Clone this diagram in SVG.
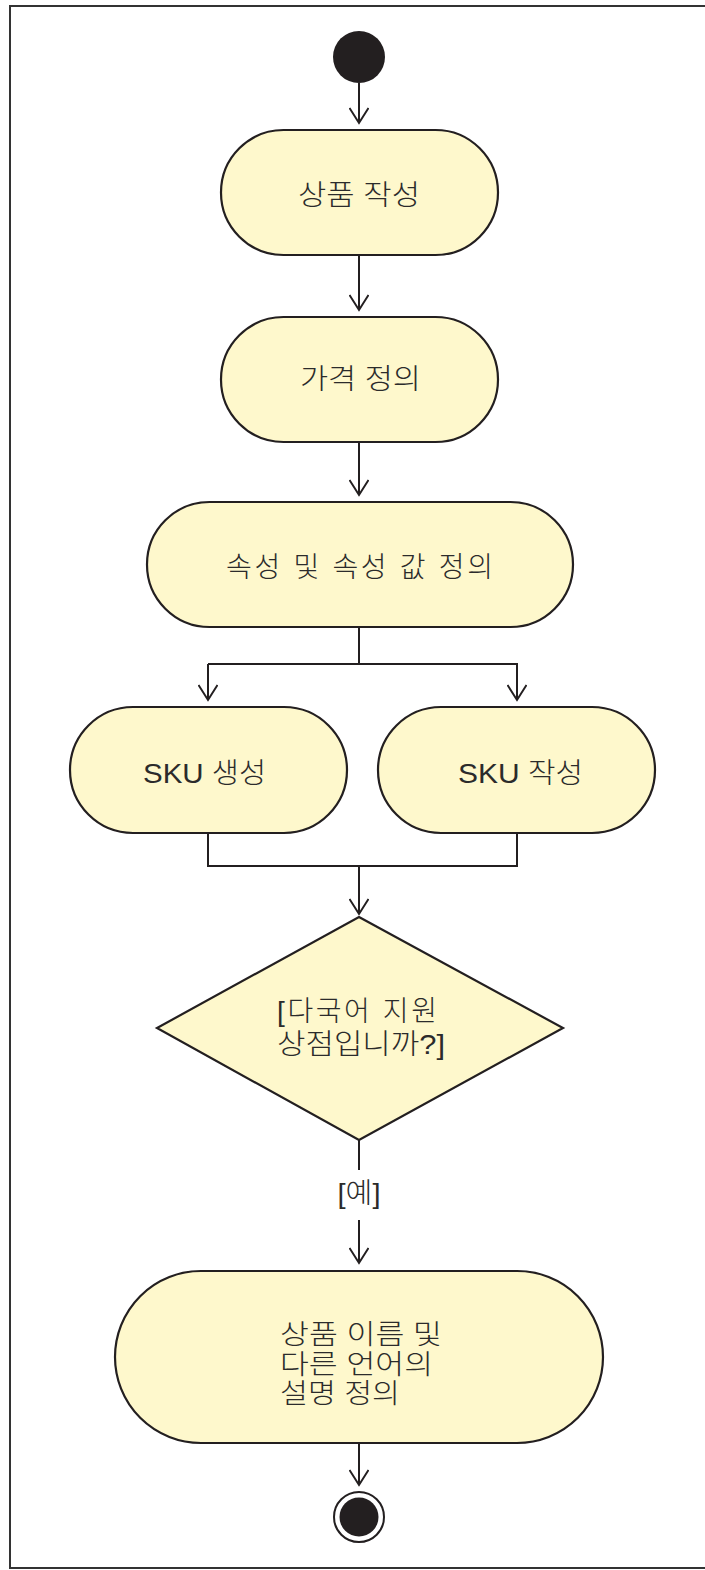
<svg xmlns="http://www.w3.org/2000/svg" width="705" height="1570" viewBox="0 0 705 1570">
<style>
.node{fill:#fef8cc;stroke:#231f20;stroke-width:2.2}
.edge{fill:none;stroke:#231f20;stroke-width:2}
.lbl{font-family:"Liberation Sans","Noto Sans CJK KR",sans-serif;font-size:28px;font-weight:300;fill:#2b2b2b}
.sku{font-size:28px}
.sm{font-size:27px}
.frame{fill:none;stroke:#333;stroke-width:2}
</style>
<defs>
<marker id="arr" viewBox="0 0 20 20" refX="17" refY="10" markerWidth="20" markerHeight="20" markerUnits="userSpaceOnUse" orient="auto">
<path d="M2,0.5 L17,10 L2,19.5" fill="none" stroke="#231f20" stroke-width="2"/>
</marker>
</defs>
<rect width="705" height="1570" fill="#ffffff"/>
<path class="frame" d="M705,6 H10 V1568 H705"/>

<g id="connectors">
<path class="edge" d="M359,83 V123" marker-end="url(#arr)"/>
<path class="edge" d="M359,255 V310" marker-end="url(#arr)"/>
<path class="edge" d="M359,442 V495" marker-end="url(#arr)"/>
<path class="edge" d="M359,627 V664"/>
<path class="edge" d="M208,664 H517 V700" marker-end="url(#arr)"/>
<path class="edge" d="M208,664 V700" marker-end="url(#arr)"/>
<path class="edge" d="M208,833 V866 H517 V833"/>
<path class="edge" d="M359,866 V914" marker-end="url(#arr)"/>
<path class="edge" d="M359,1140 V1170"/>
<path class="edge" d="M359,1220 V1263" marker-end="url(#arr)"/>
<text class="lbl" x="359" y="1203" text-anchor="middle" textLength="43" lengthAdjust="spacingAndGlyphs">[예]</text>
<path class="edge" d="M359,1443 V1485" marker-end="url(#arr)"/>
</g>

<g id="start">
<circle cx="359" cy="57" r="26" fill="#231f20"/>
</g>

<g id="n1">
<rect class="node" x="221" y="130" width="277" height="125" rx="62.5"/>
<text class="lbl" x="298" y="205" textLength="122" lengthAdjust="spacingAndGlyphs">상품 작성</text>
</g>

<g id="n2">
<rect class="node" x="221" y="317" width="277" height="125" rx="62.5"/>
<text class="lbl" x="300" y="389" textLength="121" lengthAdjust="spacingAndGlyphs">가격 정의</text>
</g>

<g id="n3">
<rect class="node" x="147" y="502" width="426" height="125" rx="62.5"/>
<text class="lbl" x="226" y="577" textLength="267" lengthAdjust="spacing">속성 및 속성 값 정의</text>
</g>

<g id="n4">
<rect class="node" x="70" y="707" width="277" height="126" rx="63"/>
<text class="lbl sku" x="143" y="783" textLength="123" lengthAdjust="spacingAndGlyphs">SKU 생성</text>
</g>

<g id="n5">
<rect class="node" x="378" y="707" width="277" height="126" rx="63"/>
<text class="lbl sku" x="458" y="783" textLength="125" lengthAdjust="spacingAndGlyphs">SKU 작성</text>
</g>

<g id="decision">
<polygon class="node" points="359,917 563,1028 359,1140 157,1028"/>
<text class="lbl" x="277" y="1021" textLength="160" lengthAdjust="spacing">[다국어 지원</text>
<text class="lbl" x="277" y="1054" textLength="168" lengthAdjust="spacingAndGlyphs">상점입니까?]</text>
</g>

<g id="n6">
<rect class="node" x="115" y="1271" width="488" height="172" rx="86"/>
<text class="lbl sm" x="280" y="1344" textLength="162" lengthAdjust="spacingAndGlyphs">상품 이름 및</text>
<text class="lbl sm" x="280" y="1374" textLength="153" lengthAdjust="spacingAndGlyphs">다른 언어의</text>
<text class="lbl sm" x="280" y="1403" textLength="120" lengthAdjust="spacingAndGlyphs">설명 정의</text>
</g>

<g id="end">
<circle cx="359" cy="1517" r="25" fill="#ffffff" stroke="#231f20" stroke-width="2"/>
<circle cx="359" cy="1517" r="19.5" fill="#231f20"/>
</g>
</svg>
